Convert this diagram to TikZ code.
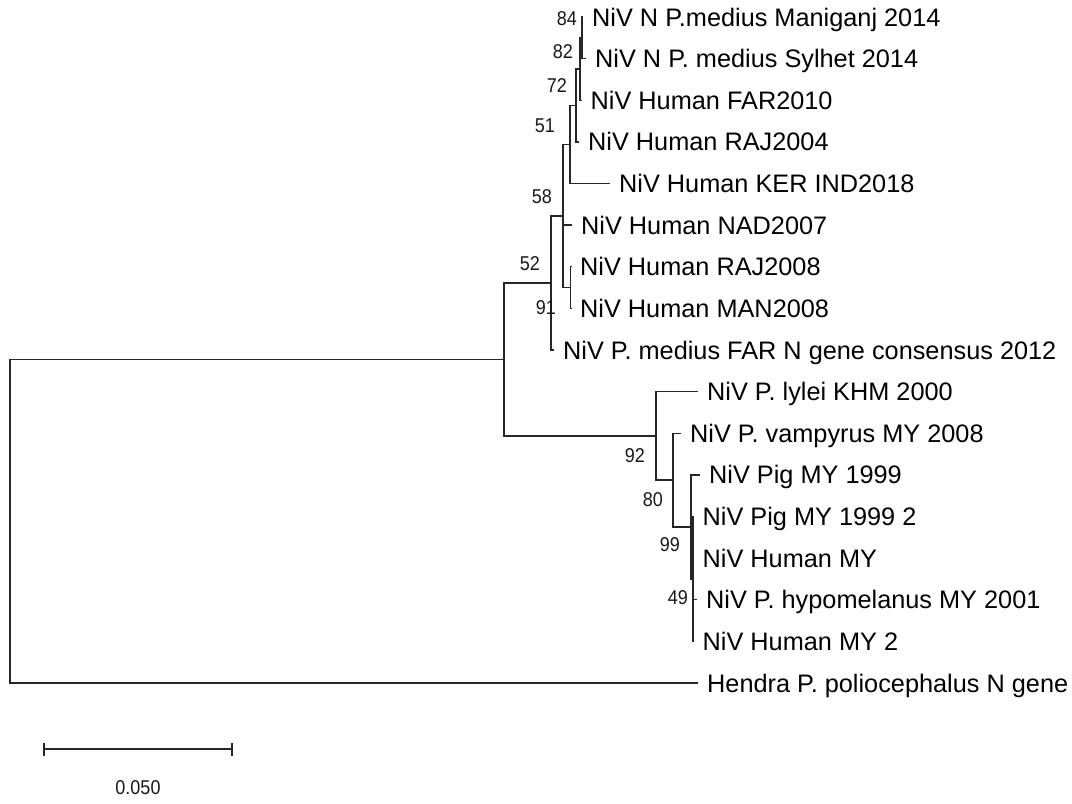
\documentclass[tikz,border=0pt]{standalone}
\usepackage{fontspec}
\usepackage{graphicx}
\setmainfont{Liberation Sans}
\newcommand{\bsnum}[1]{\scalebox{0.9}[1]{#1}}
\begin{document}
\begin{tikzpicture}[x=1pt,y=-1pt,
  br/.style={line width=1.4pt, draw=black!85},
  leaf/.style={anchor=base west, inner sep=0pt, text=black, font=\fontsize{25.3}{28}\selectfont},
  bs/.style={anchor=east, inner sep=0pt, text=black!90, font=\fontsize{20}{22}\selectfont}]
\useasboundingbox (0,0) rectangle (1072,804);
% leaf tips
\coordinate (t1) at (583,17.0);
\coordinate (t2) at (586,58.6);
\coordinate (t3) at (581.5,100.25);
\coordinate (t4) at (579,141.9);
\coordinate (t5) at (610,183.5);
\coordinate (t6) at (572,225.1);
\coordinate (t7) at (571,266.75);
\coordinate (t8) at (571,308.4);
\coordinate (t9) at (554,350.0);
\coordinate (t10) at (698,391.6);
\coordinate (t11) at (681,433.25);
\coordinate (t12) at (700,474.9);
\coordinate (t13) at (693.5,516.5);
\coordinate (t14) at (693.5,558.1);
\coordinate (t15) at (697,599.75);
\coordinate (t16) at (693.5,641.4);
\coordinate (t17) at (698,683.0);
% internal nodes
\coordinate (A) at (582,37.8);
\coordinate (B) at (580,69.05);
\coordinate (C) at (576,105.5);
\coordinate (D) at (570,144.5);
\coordinate (F) at (570.5,287.6);
\coordinate (E) at (563,216.05);
\coordinate (N52) at (551,283);
\coordinate (K) at (693,578.95);
\coordinate (J) at (691,526.9);
\coordinate (I) at (673,480.1);
\coordinate (H) at (656,435.85);
\coordinate (G) at (504,359.4);
\coordinate (R) at (10,521.2);
% branches
\draw[br] (A) |- (t1);
\draw[br] (A) |- (t2);
\draw[br] (B) |- (A);
\draw[br] (B) |- (t3);
\draw[br] (C) |- (B);
\draw[br] (C) |- (t4);
\draw[br] (D) |- (C);
\draw[br] (D) |- (t5);
\draw[br] (E) |- (D);
\draw[br] (E) |- (t6);
\draw[br] (E) |- (F);
\draw[br] (F) |- (t7);
\draw[br] (F) |- (t8);
\draw[br] (N52) |- (E);
\draw[br] (N52) |- (t9);
\draw[br] (G) |- (N52);
\draw[br] (G) |- (H);
\draw[br] (H) |- (t10);
\draw[br] (H) |- (I);
\draw[br] (I) |- (t11);
\draw[br] (I) |- (J);
\draw[br] (J) |- (t12);
\draw[br] (J) |- (K);
\draw[br] (K) |- (t13);
\draw[br] (K) |- (t14);
\draw[br] (K) |- (t15);
\draw[br] (K) |- (t16);
\draw[br] (R) |- (G);
\draw[br] (R) |- (t17);
% leaf labels
\node[leaf] (l1) at (592,26) {NiV N P.medius Maniganj 2014};
\node[leaf] (l2) at (595,67.6) {NiV N P. medius Sylhet 2014};
\node[leaf] (l3) at (590.5,109.25) {NiV Human FAR2010};
\node[leaf] (l4) at (588,150.9) {NiV Human RAJ2004};
\node[leaf] (l5) at (619,192.5) {NiV Human KER IND2018};
\node[leaf] (l6) at (581,234.1) {NiV Human NAD2007};
\node[leaf] (l7) at (580,275.75) {NiV Human RAJ2008};
\node[leaf] (l8) at (580,317.4) {NiV Human MAN2008};
\node[leaf] (l9) at (563,359.0) {NiV P. medius FAR N gene consensus 2012};
\node[leaf] (l10) at (707,400.6) {NiV P. lylei KHM 2000};
\node[leaf] (l11) at (690,442.25) {NiV P. vampyrus MY 2008};
\node[leaf] (l12) at (709,483.9) {NiV Pig MY 1999};
\node[leaf] (l13) at (702.5,525.5) {NiV Pig MY 1999 2};
\node[leaf] (l14) at (702.5,567.1) {NiV Human MY};
\node[leaf] (l15) at (706,608.75) {NiV P. hypomelanus MY 2001};
\node[leaf] (l16) at (702.5,650.4) {NiV Human MY 2};
\node[leaf] (l17) at (707,692.0) {Hendra P. poliocephalus N gene};
% bootstrap values
\node[bs] (b84) at (577,19) {\bsnum{84}};
\node[bs] (b82) at (573,52) {\bsnum{82}};
\node[bs] (b72) at (567,86) {\bsnum{72}};
\node[bs] (b51) at (555,126) {\bsnum{51}};
\node[bs] (b58) at (552,197) {\bsnum{58}};
\node[bs] (b52) at (540,264) {\bsnum{52}};
\node[bs] (b91) at (556,308) {\bsnum{91}};
\node[bs] (b92) at (645,456) {\bsnum{92}};
\node[bs] (b80) at (663,500) {\bsnum{80}};
\node[bs] (b99) at (680,545) {\bsnum{99}};
\node[bs] (b49) at (688,598) {\bsnum{49}};
% scale bar
\coordinate (s1) at (44,749);
\coordinate (s2) at (232,749);
\coordinate (s1a) at (44,742.5);
\coordinate (s1b) at (44,755.5);
\coordinate (s2a) at (232,742.5);
\coordinate (s2b) at (232,755.5);
\draw[br] (s1) -- (s2);
\draw[br] (s1a) -- (s1b);
\draw[br] (s2a) -- (s2b);
\node[bs, anchor=center] (sc) at (138,788) {\bsnum{0.050}};
\end{tikzpicture}
\end{document}
